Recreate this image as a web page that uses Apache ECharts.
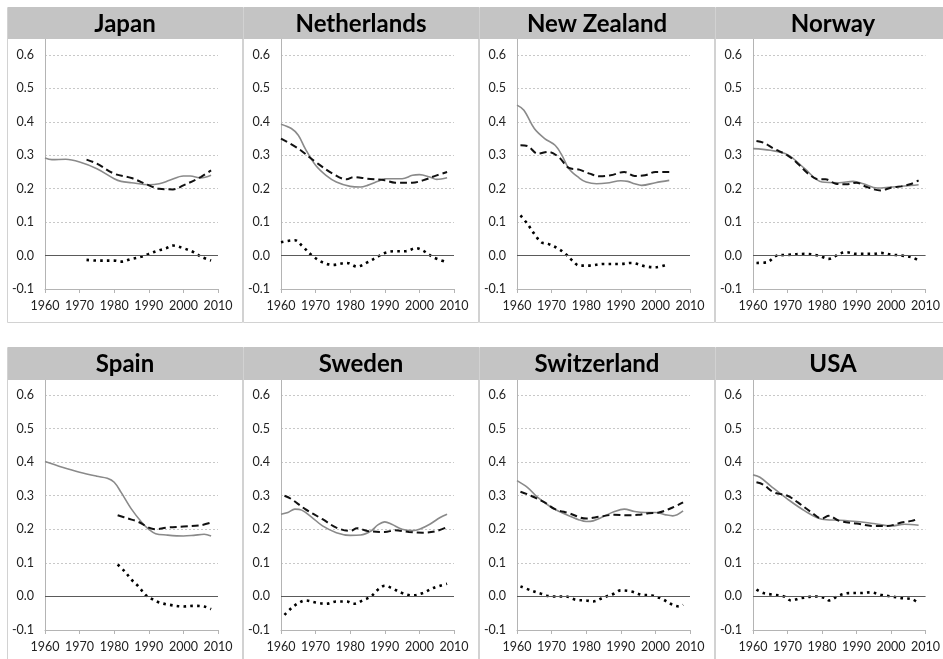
<!DOCTYPE html>
<html>
<head>
<meta charset="utf-8">
<script src="https://cdn.jsdelivr.net/npm/echarts@6/dist/echarts.min.js"></script>
<style>
  html, body { margin: 0; padding: 0; background: #fff; }
  #chart { width: 943px; height: 659px; }
</style>
</head>
<body>
<div id="chart"></div>
<script>
// tick labels
const yearTicks = [1960, 1970, 1980, 1990, 2000, 2010];
const valueTicks = [-0.1, 0.0, 0.1, 0.2, 0.3, 0.4, 0.5, 0.6];

const countries = ['Japan', 'Netherlands', 'New Zealand', 'Norway', 'Spain', 'Sweden', 'Switzerland', 'USA'];

// [year, value]
const japanSolid = [[1960,0.292],[1962,0.287],[1966,0.288],[1970,0.280],[1975,0.260],[1980,0.230],[1982,0.222],[1985,0.218],[1990,0.212],[1993,0.215],[1996,0.225],[2000,0.238],[2002,0.238],[2005,0.232],[2008,0.240]];
const japanDashed = [[1972,0.287],[1975,0.275],[1980,0.245],[1985,0.232],[1990,0.210],[1993,0.200],[1997,0.198],[2000,0.210],[2005,0.235],[2008,0.255]];
const japanDotted = [[1972,-0.013],[1975,-0.015],[1980,-0.015],[1982,-0.018],[1985,-0.010],[1988,-0.003],[1990,0.005],[1993,0.016],[1995,0.022],[1997,0.030],[2000,0.022],[2003,0.010],[2005,-0.003],[2008,-0.015]];

const netherlandsSolid = [[1960,0.393],[1963,0.380],[1965,0.360],[1967,0.320],[1970,0.270],[1973,0.240],[1976,0.220],[1980,0.207],[1983,0.205],[1985,0.210],[1988,0.222],[1990,0.230],[1995,0.230],[1998,0.240],[2000,0.242],[2003,0.235],[2005,0.228],[2008,0.233]];
const netherlandsDashed = [[1960,0.350],[1965,0.320],[1970,0.280],[1975,0.245],[1979,0.228],[1981,0.235],[1985,0.230],[1990,0.225],[1993,0.218],[1998,0.218],[2001,0.225],[2005,0.240],[2008,0.250]];
const netherlandsDotted = [[1960,0.040],[1964,0.046],[1966,0.030],[1969,0.000],[1972,-0.020],[1975,-0.028],[1979,-0.022],[1982,-0.033],[1985,-0.020],[1988,-0.003],[1990,0.008],[1993,0.013],[1996,0.013],[1999,0.022],[2001,0.015],[2004,-0.005],[2008,-0.020]];

const newZealandSolid = [[1960,0.450],[1962,0.435],[1965,0.380],[1968,0.350],[1971,0.330],[1973,0.300],[1975,0.260],[1978,0.232],[1980,0.220],[1983,0.215],[1986,0.217],[1990,0.224],[1992,0.222],[1994,0.215],[1996,0.210],[2000,0.218],[2004,0.225]];
const newZealandDashed = [[1961,0.330],[1963,0.328],[1966,0.305],[1969,0.310],[1972,0.295],[1975,0.262],[1978,0.257],[1981,0.245],[1984,0.237],[1987,0.240],[1991,0.250],[1994,0.238],[1997,0.240],[2000,0.250],[2004,0.250]];
const newZealandDotted = [[1961,0.120],[1963,0.095],[1965,0.065],[1967,0.040],[1969,0.035],[1972,0.020],[1974,0.005],[1976,-0.015],[1978,-0.030],[1981,-0.030],[1985,-0.025],[1990,-0.025],[1993,-0.022],[1997,-0.032],[2000,-0.035],[2003,-0.028]];

const norwaySolid = [[1960,0.320],[1965,0.315],[1970,0.302],[1975,0.260],[1980,0.220],[1985,0.218],[1989,0.222],[1992,0.215],[1996,0.202],[2000,0.205],[2004,0.208],[2008,0.212]];
const norwayDashed = [[1961,0.343],[1963,0.338],[1966,0.320],[1970,0.300],[1973,0.275],[1976,0.245],[1979,0.228],[1981,0.228],[1984,0.215],[1987,0.213],[1990,0.218],[1993,0.205],[1997,0.195],[2000,0.203],[2003,0.207],[2006,0.215],[2008,0.225]];
const norwayDotted = [[1961,-0.022],[1964,-0.020],[1967,0.000],[1970,0.002],[1975,0.005],[1979,0.000],[1982,-0.010],[1985,0.005],[1987,0.010],[1990,0.005],[1995,0.005],[1997,0.008],[2000,0.003],[2003,0.000],[2006,-0.005],[2008,-0.015]];

const spainSolid = [[1960,0.402],[1965,0.385],[1970,0.370],[1975,0.358],[1978,0.352],[1980,0.340],[1982,0.310],[1985,0.260],[1988,0.220],[1990,0.200],[1992,0.187],[1995,0.183],[2000,0.180],[2003,0.182],[2006,0.185],[2008,0.180]];
const spainDashed = [[1981,0.242],[1984,0.232],[1987,0.222],[1990,0.205],[1992,0.200],[1995,0.205],[2000,0.208],[2005,0.212],[2008,0.220]];
const spainDotted = [[1981,0.095],[1983,0.075],[1985,0.050],[1987,0.030],[1989,0.005],[1991,-0.008],[1993,-0.018],[1996,-0.025],[2000,-0.030],[2003,-0.028],[2006,-0.030],[2008,-0.038]];

const swedenSolid = [[1960,0.245],[1962,0.250],[1964,0.260],[1966,0.257],[1969,0.235],[1972,0.210],[1976,0.190],[1980,0.182],[1983,0.183],[1986,0.195],[1988,0.213],[1990,0.222],[1992,0.215],[1995,0.200],[1998,0.196],[2000,0.200],[2003,0.215],[2006,0.235],[2008,0.245]];
const swedenDashed = [[1961,0.300],[1963,0.290],[1967,0.260],[1972,0.230],[1976,0.205],[1980,0.195],[1982,0.203],[1985,0.195],[1990,0.192],[1993,0.197],[1997,0.192],[2001,0.190],[2005,0.195],[2008,0.207]];
const swedenDotted = [[1961,-0.055],[1963,-0.035],[1965,-0.020],[1967,-0.012],[1970,-0.018],[1973,-0.022],[1976,-0.015],[1979,-0.015],[1981,-0.022],[1984,-0.010],[1986,0.000],[1988,0.020],[1990,0.032],[1992,0.025],[1995,0.010],[1998,0.003],[2001,0.010],[2004,0.025],[2008,0.038]];

const switzerlandSolid = [[1960,0.345],[1963,0.325],[1966,0.295],[1970,0.265],[1974,0.245],[1978,0.228],[1980,0.223],[1982,0.225],[1985,0.238],[1988,0.252],[1991,0.260],[1994,0.253],[1997,0.250],[2000,0.250],[2003,0.243],[2005,0.240],[2008,0.255]];
const switzerlandDashed = [[1961,0.312],[1964,0.300],[1968,0.280],[1971,0.260],[1975,0.248],[1980,0.232],[1984,0.238],[1988,0.243],[1992,0.242],[1995,0.243],[1998,0.248],[2001,0.250],[2005,0.265],[2008,0.280]];
const switzerlandDotted = [[1961,0.030],[1964,0.018],[1967,0.008],[1970,0.000],[1974,0.000],[1977,-0.010],[1980,-0.012],[1982,-0.015],[1985,-0.003],[1988,0.008],[1990,0.018],[1993,0.015],[1996,0.005],[1999,0.003],[2002,-0.008],[2005,-0.025],[2007,-0.030],[2008,-0.025]];

const usaSolid = [[1960,0.362],[1962,0.355],[1965,0.330],[1970,0.290],[1975,0.255],[1980,0.230],[1985,0.227],[1990,0.223],[1995,0.217],[2000,0.210],[2004,0.215],[2008,0.212]];
const usaDashed = [[1961,0.340],[1963,0.333],[1966,0.310],[1970,0.300],[1973,0.280],[1977,0.250],[1980,0.232],[1982,0.240],[1985,0.225],[1990,0.217],[1995,0.210],[1999,0.210],[2003,0.220],[2006,0.225],[2008,0.232]];
const usaDotted = [[1961,0.020],[1963,0.010],[1966,0.005],[1969,0.000],[1971,-0.012],[1974,-0.005],[1978,0.000],[1981,-0.005],[1982,-0.012],[1985,0.003],[1988,0.010],[1991,0.010],[1994,0.012],[1997,0.005],[2000,0.000],[2003,-0.005],[2006,-0.008],[2008,-0.020]];

const solidSets = [japanSolid, netherlandsSolid, newZealandSolid, norwaySolid, spainSolid, swedenSolid, switzerlandSolid, usaSolid];
const dashedSets = [japanDashed, netherlandsDashed, newZealandDashed, norwayDashed, spainDashed, swedenDashed, switzerlandDashed, usaDashed];
const dottedSets = [japanDotted, netherlandsDotted, newZealandDotted, norwayDotted, spainDotted, swedenDotted, switzerlandDotted, usaDotted];

// layout
const colX = [7, 243, 479, 715];
const rows = [
    { top: 7, barH: 32, gridTop: 55, gridH: 234, bottom: 322 },
    { top: 347, barH: 33, gridTop: 395, gridH: 235, bottom: 680 }
];
const panelW = 236;
const plotLeft = 38;
const plotW = 173;
const axisGray = '#b4b4b4';
const font = 'Lato, "Open Sans", sans-serif';

let grids = [], xAxes = [], yAxes = [], series = [], graphics = [];

countries.forEach((name, i) => {
    const r = rows[Math.floor(i / 4)];
    const px = colX[i % 4];
    const gx = px + plotLeft;

    // panel frame and title bar
    graphics.push({
        type: 'rect', z: 1,
        shape: { x: px + 0.5, y: r.top + 0.5, width: panelW - 1, height: r.bottom - r.top },
        style: { fill: 'none', stroke: '#d2d2d2', lineWidth: 1 }
    });
    graphics.push({
        type: 'rect', z: 2,
        shape: { x: px + 1, y: r.top, width: panelW - 1, height: r.barH },
        style: { fill: '#c4c4c4' }
    });
    graphics.push({
        type: 'text', z: 3,
        x: px + panelW / 2, y: r.top + r.barH / 2 + 1,
        style: {
            text: name, fill: '#000', fontFamily: font, fontWeight: 'bold', fontSize: 24,
            align: 'center', verticalAlign: 'middle'
        }
    });
    // y axis line carried up to the title bar
    graphics.push({
        type: 'line', z: 2,
        shape: { x1: gx + 0.5, y1: r.top + r.barH, x2: gx + 0.5, y2: r.gridTop },
        style: { stroke: axisGray, lineWidth: 1 }
    });

    grids.push({ left: gx, top: r.gridTop, width: plotW, height: r.gridH });

    xAxes.push({
        gridIndex: i, type: 'value',
        min: yearTicks[0], max: yearTicks[yearTicks.length - 1], interval: 10,
        axisLine: { onZero: false, lineStyle: { color: axisGray } },
        axisTick: { show: true, length: 4, lineStyle: { color: axisGray } },
        axisLabel: { margin: 10, fontSize: 12.5, color: '#222', fontFamily: font, formatter: v => String(v) },
        splitLine: { show: false }
    });
    yAxes.push({
        gridIndex: i, type: 'value',
        min: valueTicks[0], max: valueTicks[valueTicks.length - 1], interval: 0.1,
        axisLine: { show: true, lineStyle: { color: axisGray } },
        axisTick: { show: false },
        axisLabel: {
            margin: 11, fontSize: 12.5, color: '#222', fontFamily: font,
            formatter: v => v.toFixed(1)
        },
        splitLine: { show: true, lineStyle: { color: '#c8c8c8', type: [2, 2], width: 1 } }
    });

    series.push({
        type: 'line', xAxisIndex: i, yAxisIndex: i, data: solidSets[i],
        showSymbol: false, smooth: 0.35, silent: true,
        lineStyle: { color: '#8a8a8a', width: 1.6 },
        markLine: {
            silent: true, symbol: 'none', label: { show: false },
            lineStyle: { color: '#5a5a5a', type: 'solid', width: 1 },
            data: [{ yAxis: 0 }]
        }
    });
    series.push({
        type: 'line', xAxisIndex: i, yAxisIndex: i, data: dashedSets[i],
        showSymbol: false, smooth: 0.35, silent: true,
        lineStyle: { color: '#111', width: 2, type: [7, 4] }
    });
    series.push({
        type: 'line', xAxisIndex: i, yAxisIndex: i, data: dottedSets[i],
        showSymbol: false, smooth: 0.35, silent: true,
        lineStyle: { color: '#000', width: 2.6, type: [2.6, 4.2], cap: 'butt' }
    });
});

const chart = echarts.init(document.getElementById('chart'));
chart.setOption({
    animation: false,
    backgroundColor: '#fff',
    grid: grids,
    xAxis: xAxes,
    yAxis: yAxes,
    series: series,
    graphic: graphics
});
</script>
</body>
</html>
